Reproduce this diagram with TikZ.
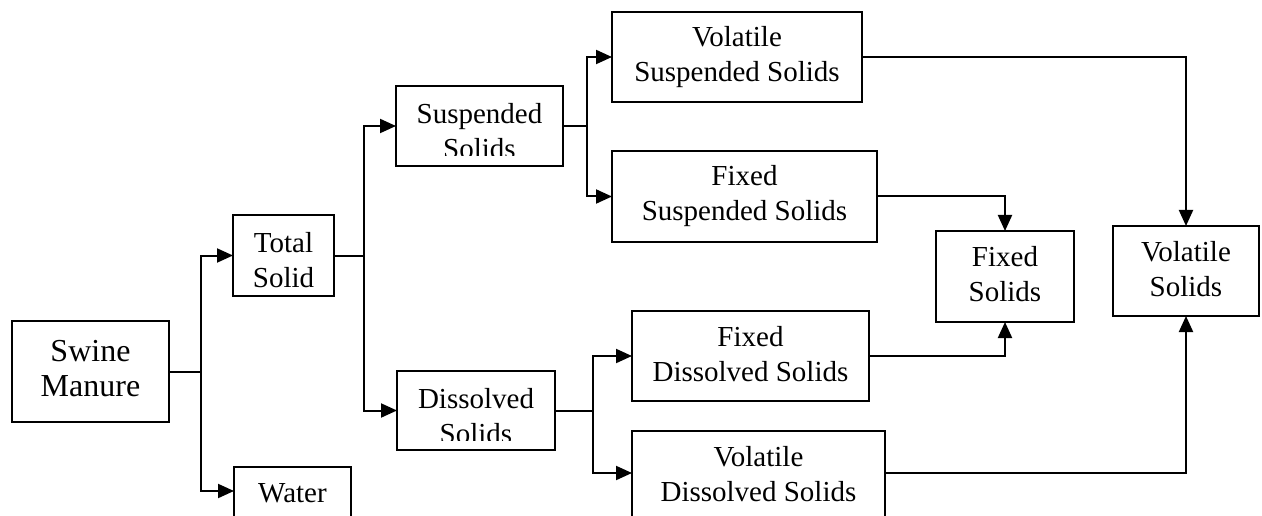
\documentclass[tikz,border=0pt]{standalone}
\usepackage{fontspec}
\setmainfont{Liberation Serif}
\usetikzlibrary{arrows.meta}
\begin{document}
\begin{tikzpicture}[x=1pt,y=-1pt,
  box/.style={draw, line width=2pt, inner sep=0pt, outer sep=0pt},
  boxtext/.style={align=center, inner sep=0pt, font=\fontsize{29}{35}\selectfont},
  link/.style={line width=2pt},
  arr/.style={link, -{Triangle[length=16pt,width=14pt]}}]
\useasboundingbox (0,0) rectangle (1262,516);

% boxes
\node[box, minimum width=157pt, minimum height=101pt] (sm) at (90.5,371.5) {};
\node[boxtext, font=\fontsize{32}{35}\selectfont] (smt) at (90.5,368.6) {Swine\\Manure};

\node[box, minimum width=101pt, minimum height=81pt] (ts) at (283.5,255.5) {};
\node[boxtext] (tst) at (283.5,259.8) {Total\\Solid};

\node[box, minimum width=117pt, minimum height=68pt] (wa) at (292.5,501) {};
\node[boxtext] (wat) at (292.5,493.5) {Water};

\node[box, minimum width=167pt, minimum height=80pt] (ss) at (479.5,126) {};
\begin{scope}
  \clip (396,86) rectangle (563,156);
  \node[boxtext] (sst) at (479.5,131) {Suspended\\Solids};
\end{scope}

\node[box, minimum width=158pt, minimum height=79pt] (ds) at (476,410.5) {};
\begin{scope}
  \clip (397,371) rectangle (555,440);
  \node[boxtext] (dst) at (476,415.6) {Dissolved\\Solids};
\end{scope}

\node[box, minimum width=250pt, minimum height=90pt] (vss) at (737,57) {};
\node[boxtext] (vsst) at (737,57.4) {Volatile\\Suspended Solids};

\node[box, minimum width=265pt, minimum height=91pt] (fss) at (744.5,196.5) {};
\node[boxtext] (fsst) at (744.5,196.4) {Fixed\\Suspended Solids};

\node[box, minimum width=237pt, minimum height=90pt] (fds) at (750.5,356) {};
\node[boxtext] (fdst) at (750.5,353.6) {Fixed\\Dissolved Solids};

\node[box, minimum width=253pt, minimum height=90pt] (vds) at (758.5,476) {};
\node[boxtext] (vdst) at (758.5,474) {Volatile\\Dissolved Solids};

\node[box, minimum width=138pt, minimum height=91pt] (fs) at (1005,276.5) {};
\node[boxtext] (fst) at (1005,274.5) {Fixed\\Solids};

\node[box, minimum width=146pt, minimum height=90pt] (vs) at (1186,271) {};
\node[boxtext] (vst) at (1186,269) {Volatile\\Solids};

% branch points
\coordinate (j1) at (201,371.5);
\coordinate (j2) at (364,255.5);
\coordinate (j3) at (587,126);
\coordinate (j4) at (593,410.5);

% connectors
\draw[link] (sm.east) -- (j1);
\draw[arr] (j1) |- (ts.west);
\draw[arr] (j1) |- ([yshift=10pt]wa.west);

\draw[link] (ts.east) -- (j2);
\draw[arr] (j2) |- (ss.west);
\draw[arr] (j2) |- (ds.west);

\draw[link] (ss.east) -- (j3);
\draw[arr] (j3) |- (vss.west);
\draw[arr] (j3) |- (fss.west);

\draw[link] (ds.east) -- (j4);
\draw[arr] (j4) |- (fds.west);
\draw[arr] (j4) |- ([yshift=3pt]vds.west);

\draw[arr] (vss.east) -| (vs.north);
\draw[arr] (fss.east) -| (fs.north);
\draw[arr] (fds.east) -| (fs.south);
\draw[arr] ([yshift=3pt]vds.east) -| (vs.south);
\end{tikzpicture}
\end{document}
